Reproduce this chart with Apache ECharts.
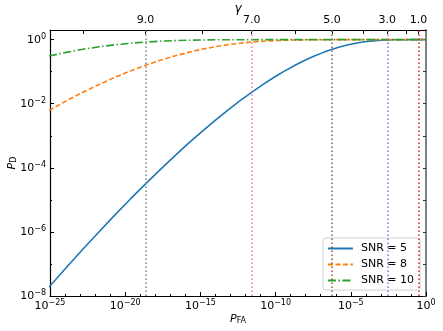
<!DOCTYPE html>
<html>
<head>
<meta charset="utf-8">
<script src="https://cdn.jsdelivr.net/npm/echarts@6/dist/echarts.min.js"></script>
<style>
html, body { margin: 0; padding: 0; background: #fff; }
#main { width: 443px; height: 331px; }
</style>
</head>
<body>
<div id="main"></div>
<script>
// values, stored as log10 of P_FA and P_D
var logPfa = [-25.064, -23.928, -22.817, -21.735, -20.678, -19.650, -18.646, -17.673, -16.722, -15.802,
	-14.905, -14.038, -13.195, -12.381, -11.592, -10.830, -10.095, -9.387, -8.705, -8.050,
	-7.420, -6.818, -6.242, -5.692, -5.168, -4.670, -4.198, -3.752, -3.332, -2.938,
	-2.569, -2.225, -1.906, -1.612, -1.342, -1.096, -0.874, -0.675, -0.498, -0.344,
	-0.210, -0.096, 0];
var logPdSnr5 = [-7.721, -7.119, -6.543, -5.993, -5.469, -4.971, -4.499, -4.054, -3.633, -3.239,
	-2.870, -2.526, -2.207, -1.913, -1.643, -1.397, -1.175, -0.976, -0.799, -0.645,
	-0.511, -0.397, -0.301, -0.223, -0.160, -0.112, -0.075, -0.049, -0.030, -0.018,
	-0.010, -0.005, -0.003, -0.001, -0.001, -0.0003, -0.0001, 0, 0, 0,
	0, 0, 0];
var logPdSnr8 = [-2.207, -1.913, -1.643, -1.397, -1.175, -0.976, -0.799, -0.645, -0.511, -0.397,
	-0.301, -0.223, -0.160, -0.112, -0.075, -0.049, -0.030, -0.018, -0.010, -0.005,
	-0.003, -0.001, -0.001, -0.0003, -0.0001, 0, 0, 0, 0, 0,
	0, 0, 0, 0, 0, 0, 0, 0, 0, 0,
	0, 0, 0];
var logPdSnr10 = [-0.511, -0.397, -0.301, -0.223, -0.160, -0.112, -0.075, -0.049, -0.030, -0.018,
	-0.010, -0.005, -0.003, -0.001, -0.001, -0.0003, -0.0001, 0, 0, 0,
	0, 0, 0, 0, 0, 0, 0, 0, 0, 0,
	0, 0, 0, 0, 0, 0, 0, 0, 0, 0,
	0, 0, 0];

// top axis: threshold gamma and where it falls on P_FA
var gammaValues = [10, 9, 8, 7, 6, 5, 4, 3, 2, 1];
var gammaLogPfa = [-22.817, -18.646, -14.905, -11.592, -8.705, -6.242, -4.198, -2.569, -1.342, -0.498];
var gammaLabeled = [9, 7, 5, 3, 1];
var gammaLineColors = ['#7f7f7f', '#e377c2', '#8c564b', '#9467bd', '#d62728'];

var xTicks = [-25, -20, -15, -10, -5, 0];
var yTicks = [-8, -6, -4, -2, 0];
var yTicksRight = [-8, -7, -6, -5, -4, -3, -2, -1, 0];

var myChart = echarts.init(document.getElementById('main'));

function pairs(xs, ys) {
	var out = [];
	for (var i = 0; i < xs.length; i++) out.push([xs[i], ys[i]]);
	return out;
}
function gammaPos(g) {
	return gammaLogPfa[gammaValues.indexOf(g)];
}
function powLabel(v) {
	var n = Math.round(v);
	return '{b|10}{e|' + (n < 0 ? '\u2212' + (-n) : n) + '}';
}

var font = 'DejaVu Sans';
var powRich = {
	b: { fontSize: 11, fontFamily: font, color: '#000' },
	e: { fontSize: 8, fontFamily: font, color: '#000', padding: [0, 0, 6, 0] }
};

var vLines = [];
for (var i = 0; i < gammaLabeled.length; i++) {
	vLines.push({
		xAxis: gammaPos(gammaLabeled[i]),
		lineStyle: { color: gammaLineColors[i], type: [1.5, 2.5], width: 1.5 }
	});
}

var option = {
	animation: false,
	backgroundColor: '#fff',
	grid: { left: 50, right: 17, top: 30, bottom: 35, containLabel: false, outerBoundsMode: 'none' },
	legend: {
		right: 23,
		bottom: 41,
		orient: 'vertical',
		itemWidth: 25,
		itemHeight: 12,
		itemGap: 5,
		padding: [5, 6, 4, 4],
		backgroundColor: 'rgba(255,255,255,0.85)',
		borderColor: '#d0d0d0',
		borderWidth: 1,
		borderRadius: 3,
		itemStyle: { opacity: 0 },
		textStyle: { fontFamily: font, fontSize: 11, color: '#000', padding: [0, 0, 0, 3] },
		data: ['SNR = 5', 'SNR = 8', 'SNR = 10']
	},
	xAxis: [{
		type: 'value',
		position: 'bottom',
		min: -25,
		max: 0,
		interval: 5,
		name: '{i|P}{s|FA}',
		nameLocation: 'middle',
		nameGap: 17,
		nameMoveOverlap: false,
		nameTextStyle: {
			rich: {
				i: { fontSize: 11, fontFamily: font, fontStyle: 'italic', color: '#000' },
				s: { fontSize: 8, fontFamily: font, color: '#000', padding: [4, 0, 0, 0] }
			}
		},
		axisLine: { onZero: false, lineStyle: { color: '#000', width: 1.2 } },
		axisTick: { inside: true, length: 4, lineStyle: { color: '#000' } },
		minorTick: { show: true, splitNumber: 5, length: 2, lineStyle: { color: '#000' } },
		axisLabel: { margin: 3, customValues: xTicks, formatter: powLabel, rich: powRich },
		splitLine: { show: false }
	}, {
		type: 'value',
		position: 'top',
		min: -25,
		max: 0,
		name: '\u03b3',
		nameLocation: 'middle',
		nameGap: 15,
		nameMoveOverlap: false,
		nameTextStyle: { fontSize: 12, fontFamily: font, fontStyle: 'italic', color: '#000' },
		axisLine: { onZero: false, lineStyle: { color: '#000', width: 1.2 } },
		axisTick: { inside: true, length: 4, customValues: gammaLogPfa, lineStyle: { color: '#000' } },
		minorTick: { show: false },
		axisLabel: {
			margin: 4,
			fontSize: 11,
			fontFamily: font,
			color: '#000',
			customValues: gammaLabeled.map(gammaPos),
			formatter: function (v) {
				var k = gammaLogPfa.indexOf(v);
				return k < 0 ? '' : gammaValues[k].toFixed(1);
			}
		},
		splitLine: { show: false }
	}],
	yAxis: [{
		type: 'value',
		position: 'left',
		min: -8,
		max: 0.301,
		interval: 2,
		name: '{i|P}{s|D}',
		nameLocation: 'middle',
		nameGap: 32,
		nameMoveOverlap: false,
		nameRotate: 90,
		nameTextStyle: {
			rich: {
				i: { fontSize: 11, fontFamily: font, fontStyle: 'italic', color: '#000' },
				s: { fontSize: 8, fontFamily: font, color: '#000', padding: [4, 0, 0, 0] }
			}
		},
		axisLine: { show: true, onZero: false, lineStyle: { color: '#000', width: 1.2 } },
		axisTick: { show: true, inside: true, length: 4, customValues: yTicks, lineStyle: { color: '#000' } },
		minorTick: { show: true, splitNumber: 2, length: 2, lineStyle: { color: '#000' } },
		axisLabel: { margin: 4, customValues: yTicks, formatter: powLabel, rich: powRich },
		splitLine: { show: false }
	}, {
		type: 'value',
		position: 'right',
		min: -8,
		max: 0.301,
		axisLine: { show: true, onZero: false, lineStyle: { color: '#808080', width: 2 } },
		axisTick: { show: true, inside: true, length: 3, customValues: yTicksRight, lineStyle: { color: '#333' } },
		axisLabel: { show: false },
		splitLine: { show: false }
	}],
	series: [{
		name: 'SNR = 5',
		type: 'line',
		symbol: 'none',
		data: pairs(logPfa, logPdSnr5),
		lineStyle: { color: '#1f77b4', width: 1.6 },
		itemStyle: { color: '#1f77b4' },
		z: 3
	}, {
		name: 'SNR = 8',
		type: 'line',
		symbol: 'none',
		data: pairs(logPfa, logPdSnr8),
		lineStyle: { color: '#ff7f0e', width: 1.6, type: [5, 2.5] },
		itemStyle: { color: '#ff7f0e' },
		z: 3
	}, {
		name: 'SNR = 10',
		type: 'line',
		symbol: 'none',
		data: pairs(logPfa, logPdSnr10),
		lineStyle: { color: '#2ca02c', width: 1.6, type: [8, 2.5, 1.5, 2.5] },
		itemStyle: { color: '#2ca02c' },
		z: 3
	}, {
		name: 'gamma',
		type: 'line',
		symbol: 'none',
		data: [],
		z: 4,
		markLine: {
			silent: true,
			symbol: 'none',
			label: { show: false },
			data: vLines
		}
	}]
};

myChart.setOption(option);
</script>
</body>
</html>
